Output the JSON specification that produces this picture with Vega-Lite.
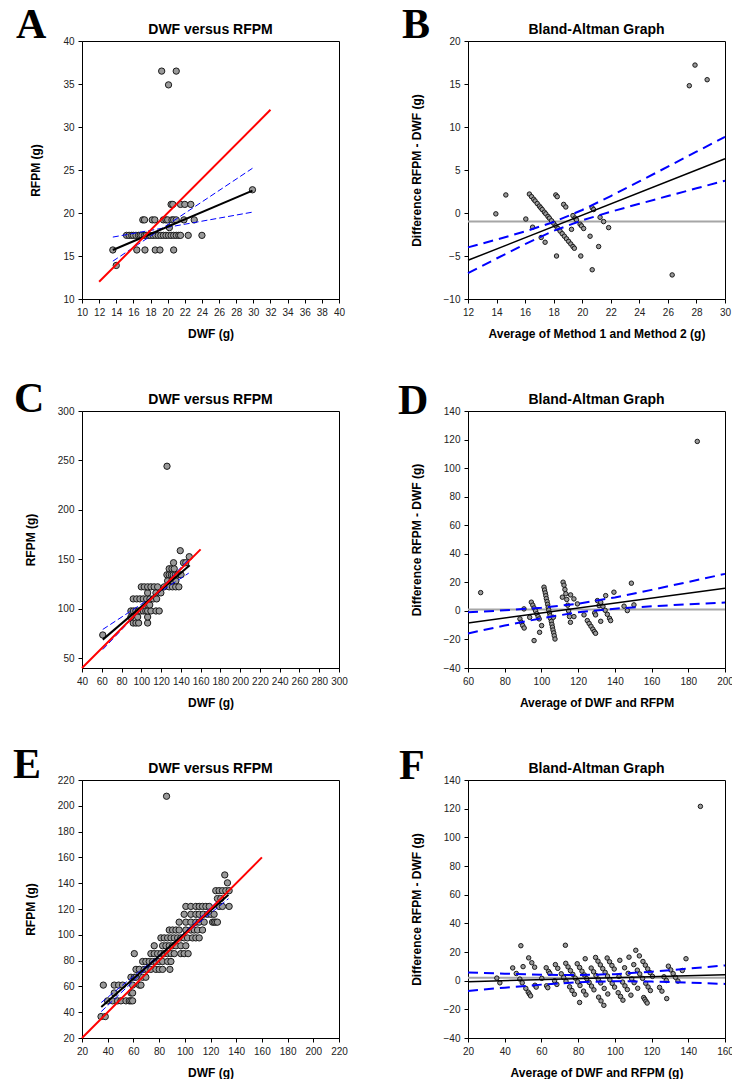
{
  "$schema": "https://vega.github.io/schema/vega-lite/v6.json",
  "padding": {"left": 12, "top": 3, "right": 0, "bottom": 0},
  "bounds": "flush",
  "columns": 2,
  "spacing": {"row": 112, "column": 129},
  "config": {
    "font": "Liberation Sans",
    "view": {"stroke": "#000000", "strokeWidth": 1},
    "axis": {"grid": false, "domainColor": "#000000", "domainWidth": 1, "tickColor": "#000000", "tickSize": 4, "labelFontSize": 10, "labelColor": "#222222", "labelPadding": 4, "labelFlush": false, "labelOverlap": false, "titleFontSize": 12, "titleFontWeight": "bold", "titleColor": "#000000"},
    "axisX": {"titlePadding": 11},
    "axisY": {"titlePadding": 20},
    "title": {"fontSize": 14, "fontWeight": "bold", "color": "#000000"}
  },
  "datasets": {
    "a_pts": [
      {"x":14.0,"y":13.9},
      {"x":13.6,"y":15.7},{"x":16.4,"y":15.7},{"x":17.35,"y":15.7},{"x":18.55,"y":15.7},{"x":19.1,"y":15.7},{"x":20.7,"y":15.7},
      {"x":15.2,"y":17.4},{"x":15.5,"y":17.4},{"x":15.8,"y":17.4},{"x":16.0,"y":17.4},{"x":16.3,"y":17.4},{"x":16.6,"y":17.4},{"x":16.8,"y":17.4},{"x":17.0,"y":17.4},{"x":17.3,"y":17.4},{"x":17.5,"y":17.4},{"x":17.8,"y":17.4},{"x":18.0,"y":17.4},{"x":18.3,"y":17.4},{"x":18.6,"y":17.4},{"x":18.9,"y":17.4},{"x":19.2,"y":17.4},{"x":19.5,"y":17.4},{"x":19.8,"y":17.4},{"x":20.1,"y":17.4},{"x":20.4,"y":17.4},{"x":20.7,"y":17.4},{"x":21.0,"y":17.4},{"x":21.3,"y":17.4},{"x":21.5,"y":17.4},{"x":22.4,"y":17.4},{"x":24.0,"y":17.4},
      {"x":20.2,"y":18.3},
      {"x":17.1,"y":19.2},{"x":17.3,"y":19.2},{"x":18.2,"y":19.2},{"x":18.5,"y":19.2},{"x":19.5,"y":19.2},{"x":19.8,"y":19.2},{"x":20.0,"y":19.2},{"x":20.5,"y":19.2},{"x":20.7,"y":19.2},{"x":21.0,"y":19.2},{"x":21.9,"y":19.2},{"x":23.1,"y":19.2},
      {"x":20.4,"y":21.0},{"x":20.6,"y":21.0},{"x":21.5,"y":21.0},{"x":22.0,"y":21.0},{"x":22.7,"y":21.0},
      {"x":29.9,"y":22.7},{"x":20.1,"y":34.9},{"x":19.3,"y":36.5},{"x":21.0,"y":36.5}
    ],
    "a_lines": [
      {"line":"identity","x":12,"y":12},{"line":"identity","x":32,"y":32},
      {"line":"fit","x":13.6,"y":15.7},{"line":"fit","x":29.9,"y":22.6},
      {"line":"band_a","x":13.6,"y":17.2},{"line":"band_a","x":29.9,"y":20.1},
      {"line":"band_b","x":13.6,"y":14.4},{"line":"band_b","x":29.9,"y":25.2}
    ],
    "b_pts": [
      {"x":13.95,"y":-0.1},
      {"x":14.65,"y":2.1},{"x":16.05,"y":-0.7},{"x":16.525,"y":-1.65},{"x":17.125,"y":-2.85},{"x":17.4,"y":-3.4},{"x":18.2,"y":-5.0},
      {"x":16.3,"y":2.2},{"x":16.45,"y":1.9},{"x":16.6,"y":1.6},{"x":16.7,"y":1.4},{"x":16.85,"y":1.1},{"x":17.0,"y":0.8},{"x":17.1,"y":0.6},{"x":17.2,"y":0.4},{"x":17.35,"y":0.1},{"x":17.45,"y":-0.1},{"x":17.6,"y":-0.4},{"x":17.7,"y":-0.6},{"x":17.85,"y":-0.9},{"x":18.0,"y":-1.2},{"x":18.15,"y":-1.5},{"x":18.3,"y":-1.8},{"x":18.45,"y":-2.1},{"x":18.6,"y":-2.4},{"x":18.75,"y":-2.7},{"x":18.9,"y":-3.0},{"x":19.05,"y":-3.3},{"x":19.2,"y":-3.6},{"x":19.35,"y":-3.9},{"x":19.45,"y":-4.1},{"x":19.9,"y":-5.0},{"x":20.7,"y":-6.6},
      {"x":19.25,"y":-1.9},
      {"x":18.15,"y":2.1},{"x":18.25,"y":1.9},{"x":18.7,"y":1.0},{"x":18.85,"y":0.7},{"x":19.35,"y":-0.3},{"x":19.5,"y":-0.6},{"x":19.6,"y":-0.8},{"x":19.85,"y":-1.3},{"x":19.95,"y":-1.5},{"x":20.1,"y":-1.8},{"x":20.55,"y":-2.7},{"x":21.15,"y":-3.9},
      {"x":20.7,"y":0.6},{"x":20.8,"y":0.4},{"x":21.25,"y":-0.5},{"x":21.5,"y":-1.0},{"x":21.85,"y":-1.7},
      {"x":26.3,"y":-7.2},{"x":27.5,"y":14.8},{"x":27.9,"y":17.2},{"x":28.75,"y":15.5}
    ],
    "b_lines": [
      {"line":"mean","x":12,"y":-1.0},{"line":"mean","x":30,"y":-1.0},
      {"line":"fit","x":12,"y":-5.5},{"line":"fit","x":30,"y":6.3},
      {"line":"upper","x":12,"y":-4.0},{"line":"upper","x":14,"y":-3.09},{"line":"upper","x":16,"y":-2.14},{"line":"upper","x":18,"y":-1.05},{"line":"upper","x":20,"y":0.35},{"line":"upper","x":22,"y":1.97},{"line":"upper","x":24,"y":3.67},{"line":"upper","x":26,"y":5.39},{"line":"upper","x":28,"y":7.13},{"line":"upper","x":30,"y":8.86},
      {"line":"lower","x":12,"y":-7.0},{"line":"lower","x":14,"y":-5.29},{"line":"lower","x":16,"y":-3.62},{"line":"lower","x":18,"y":-2.07},{"line":"lower","x":20,"y":-0.85},{"line":"lower","x":22,"y":0.15},{"line":"lower","x":24,"y":1.07},{"line":"lower","x":26,"y":1.97},{"line":"lower","x":28,"y":2.87},{"line":"lower","x":30,"y":3.76}
    ],
    "c_pts": [
      {"x":61,"y":73.4},
      {"x":91.8,"y":85.5},{"x":94.6,"y":85.5},{"x":97.3,"y":85.5},{"x":106.4,"y":85.5},
      {"x":89.5,"y":91.6},{"x":96.3,"y":91.6},{"x":106.4,"y":91.6},
      {"x":89.5,"y":97.7},{"x":92.0,"y":97.7},{"x":94.5,"y":97.7},{"x":97.0,"y":97.7},{"x":99.5,"y":97.7},{"x":102.0,"y":97.7},{"x":104.5,"y":97.7},{"x":106.4,"y":97.7},{"x":109.7,"y":97.7},{"x":114.8,"y":97.7},{"x":118.1,"y":97.7},
      {"x":106.4,"y":103.8},{"x":108.5,"y":103.8},
      {"x":91.8,"y":109.9},{"x":95.3,"y":109.9},{"x":98.6,"y":109.9},{"x":102.0,"y":109.9},{"x":105.4,"y":109.9},{"x":108.7,"y":109.9},{"x":112.1,"y":109.9},{"x":115.5,"y":109.9},
      {"x":106.4,"y":116.0},{"x":114.8,"y":116.0},{"x":119.8,"y":116.0},
      {"x":100.0,"y":122.1},{"x":103.0,"y":122.1},{"x":106.4,"y":122.1},{"x":109.7,"y":122.1},{"x":113.0,"y":122.1},{"x":116.5,"y":122.1},{"x":123.2,"y":122.1},{"x":128.2,"y":122.1},{"x":131.5,"y":122.1},{"x":134.8,"y":122.1},{"x":138.0,"y":122.1},
      {"x":126.6,"y":128.2},{"x":131.0,"y":128.2},{"x":135.0,"y":128.2},
      {"x":125.9,"y":134.3},{"x":128.2,"y":134.3},{"x":130.5,"y":134.3},{"x":132.3,"y":134.3},{"x":134.5,"y":134.3},{"x":136.7,"y":134.3},{"x":140.2,"y":134.3},
      {"x":128.2,"y":140.4},{"x":131.0,"y":140.4},{"x":133.3,"y":140.4},
      {"x":132.6,"y":146.5},{"x":142.7,"y":146.5},{"x":145.0,"y":146.5},
      {"x":148.5,"y":152.6},{"x":139.4,"y":158.7},{"x":126.0,"y":244.1}
    ],
    "c_lines": [
      {"line":"identity","x":40,"y":40},{"line":"identity","x":160,"y":160},
      {"line":"fit","x":61,"y":68.7},{"line":"fit","x":149,"y":143.9},
      {"line":"band_a","x":61,"y":79},{"line":"band_a","x":148,"y":136},
      {"line":"band_b","x":61,"y":58.7},{"line":"band_b","x":148,"y":150}
    ],
    "d_pts": [
      {"x":66.9,"y":12.8},
      {"x":88.3,"y":-5.6},{"x":89.0,"y":-8.0},{"x":89.8,"y":-10.2},{"x":90.6,"y":-12.0},
      {"x":90.5,"y":1.4},{"x":93.6,"y":-4.5},
      {"x":94.5,"y":6.1},{"x":95.3,"y":4.0},{"x":96.0,"y":2.0},{"x":96.8,"y":0.0},{"x":97.5,"y":-2.0},{"x":98.2,"y":-4.0},{"x":98.8,"y":-5.6},
      {"x":96.0,"y":-20.8},{"x":99.0,"y":-15.0},{"x":100.1,"y":-10.3},
      {"x":101.4,"y":16.6},{"x":101.7,"y":14.6},{"x":102.1,"y":12.6},{"x":102.4,"y":10.6},{"x":102.7,"y":8.6},{"x":103.1,"y":6.6},{"x":103.4,"y":4.6},{"x":103.7,"y":2.6},{"x":104.0,"y":0.6},{"x":104.4,"y":-1.4},{"x":104.7,"y":-3.4},{"x":105.0,"y":-5.4},{"x":105.4,"y":-7.4},{"x":105.7,"y":-9.4},{"x":106.0,"y":-11.4},{"x":106.3,"y":-13.4},{"x":106.7,"y":-15.4},{"x":107.0,"y":-17.4},{"x":107.4,"y":-19.7},
      {"x":106.5,"y":-4.5},{"x":111.4,"y":9.6},
      {"x":111.8,"y":20.1},{"x":112.3,"y":18.0},{"x":112.8,"y":15.0},{"x":113.3,"y":12.0},{"x":113.8,"y":8.0},{"x":114.3,"y":4.0},{"x":114.8,"y":0.0},{"x":115.3,"y":-4.0},{"x":115.8,"y":-8.0},
      {"x":115.9,"y":11.2},{"x":117.7,"y":8.4},{"x":119.6,"y":4.9},{"x":117.7,"y":-4.0},
      {"x":123.2,"y":-2.8},{"x":129.0,"y":-1.4},{"x":129.5,"y":-2.8},
      {"x":125.0,"y":-6.8},{"x":126.0,"y":-8.8},{"x":127.0,"y":-10.8},{"x":128.0,"y":-12.8},{"x":128.8,"y":-14.5},{"x":129.5,"y":-15.7},
      {"x":130.5,"y":7.2},{"x":131.4,"y":3.7},{"x":132.3,"y":-7.3},
      {"x":132.3,"y":6.0},{"x":133.5,"y":3.2},{"x":134.7,"y":0.4},{"x":135.9,"y":-2.4},{"x":137.1,"y":-5.2},{"x":137.7,"y":-6.8},
      {"x":135.0,"y":10.7},{"x":139.5,"y":13.1},{"x":145.0,"y":3.3},{"x":146.8,"y":0.2},{"x":150.4,"y":4.2},{"x":149.0,"y":19.4},{"x":184.9,"y":118.7}
    ],
    "d_lines": [
      {"line":"mean","x":60,"y":1.0},{"line":"mean","x":200,"y":1.0},
      {"line":"fit","x":60,"y":-8.4},{"line":"fit","x":200,"y":15.9},
      {"line":"upper","x":60,"y":-1.0},{"line":"upper","x":80,"y":0.42},{"line":"upper","x":100,"y":2.2},{"line":"upper","x":120,"y":5.03},{"line":"upper","x":140,"y":9.44},{"line":"upper","x":160,"y":14.71},{"line":"upper","x":180,"y":20.26},{"line":"upper","x":200,"y":25.93},
      {"line":"lower","x":60,"y":-15.8},{"line":"lower","x":80,"y":-10.28},{"line":"lower","x":100,"y":-5.12},{"line":"lower","x":120,"y":-0.99},{"line":"lower","x":140,"y":1.54},{"line":"lower","x":160,"y":3.21},{"line":"lower","x":180,"y":4.6},{"line":"lower","x":200,"y":5.87}
    ],
    "e_pts": [
      {"x":34.8,"y":36.6},{"x":38.1,"y":36.6},
      {"x":39.9,"y":48.8},{"x":43.8,"y":48.8},{"x":47.7,"y":48.8},{"x":50.3,"y":48.8},{"x":54.2,"y":48.8},{"x":56.8,"y":48.8},{"x":58.1,"y":48.8},{"x":59.4,"y":48.8},
      {"x":45.1,"y":54.9},{"x":58.1,"y":54.9},{"x":59.4,"y":54.9},
      {"x":36.6,"y":61.0},{"x":45.1,"y":61.0},{"x":48.5,"y":61.0},{"x":51.6,"y":61.0},{"x":59.4,"y":61.0},{"x":64.6,"y":61.0},{"x":65.9,"y":61.0},
      {"x":58.1,"y":67.1},{"x":60.7,"y":67.1},{"x":62.0,"y":67.1},{"x":67.2,"y":67.1},{"x":69.7,"y":67.1},
      {"x":62.0,"y":73.2},{"x":64.6,"y":73.2},{"x":68.4,"y":73.2},{"x":71.0,"y":73.2},{"x":73.6,"y":73.2},{"x":77.5,"y":73.2},{"x":80.1,"y":73.2},{"x":82.7,"y":73.2},{"x":88.4,"y":73.2},
      {"x":67.2,"y":79.3},{"x":69.7,"y":79.3},{"x":72.3,"y":79.3},{"x":74.9,"y":79.3},{"x":77.5,"y":79.3},{"x":80.1,"y":79.3},{"x":82.7,"y":79.3},{"x":86.6,"y":79.3},{"x":89.2,"y":79.3},
      {"x":60.7,"y":85.4},{"x":73.6,"y":85.4},{"x":76.2,"y":85.4},{"x":78.8,"y":85.4},{"x":81.4,"y":85.4},{"x":84.0,"y":85.4},{"x":86.6,"y":85.4},{"x":89.2,"y":85.4},{"x":91.8,"y":85.4},{"x":96.9,"y":85.4},{"x":99.5,"y":85.4},{"x":102.6,"y":85.4},
      {"x":76.2,"y":91.5},{"x":82.7,"y":91.5},{"x":85.3,"y":91.5},{"x":87.9,"y":91.5},{"x":90.5,"y":91.5},{"x":93.1,"y":91.5},{"x":96.9,"y":91.5},{"x":100.8,"y":91.5},
      {"x":81.4,"y":97.6},{"x":84.0,"y":97.6},{"x":86.6,"y":97.6},{"x":89.2,"y":97.6},{"x":91.8,"y":97.6},{"x":94.4,"y":97.6},{"x":96.9,"y":97.6},{"x":99.5,"y":97.6},{"x":102.1,"y":97.6},{"x":106.0,"y":97.6},{"x":108.6,"y":97.6},{"x":111.2,"y":97.6},
      {"x":87.9,"y":103.7},{"x":90.5,"y":103.7},{"x":93.1,"y":103.7},{"x":95.6,"y":103.7},{"x":100.8,"y":103.7},{"x":104.7,"y":103.7},{"x":107.3,"y":103.7},{"x":109.9,"y":103.7},{"x":113.8,"y":103.7},
      {"x":95.6,"y":109.8},{"x":100.8,"y":109.8},{"x":104.7,"y":109.8},{"x":108.6,"y":109.8},{"x":111.2,"y":109.8},{"x":115.1,"y":109.8},{"x":121.6,"y":109.8},{"x":122.8,"y":109.8},{"x":124.1,"y":109.8},{"x":125.4,"y":109.8},
      {"x":99.5,"y":115.9},{"x":104.7,"y":115.9},{"x":108.6,"y":115.9},{"x":111.2,"y":115.9},{"x":114.3,"y":115.9},{"x":117.7,"y":115.9},{"x":120.3,"y":115.9},{"x":122.8,"y":115.9},
      {"x":100.8,"y":122.0},{"x":104.7,"y":122.0},{"x":108.6,"y":122.0},{"x":111.2,"y":122.0},{"x":113.8,"y":122.0},{"x":116.4,"y":122.0},{"x":119.0,"y":122.0},{"x":126.7,"y":122.0},{"x":129.3,"y":122.0},{"x":134.5,"y":122.0},
      {"x":125.4,"y":128.1},{"x":128.0,"y":128.1},
      {"x":124.1,"y":134.2},{"x":126.7,"y":134.2},{"x":129.3,"y":134.2},{"x":131.9,"y":134.2},{"x":134.5,"y":134.2},
      {"x":133.2,"y":140.3},{"x":131.1,"y":146.4},{"x":85.8,"y":207.4}
    ],
    "e_lines": [
      {"line":"identity","x":20,"y":20},{"line":"identity","x":160,"y":160},
      {"line":"fit","x":35,"y":44},{"line":"fit","x":134,"y":131},
      {"line":"band_a","x":35,"y":47.5},{"line":"band_a","x":134,"y":128},
      {"line":"band_b","x":35,"y":40.5},{"line":"band_b","x":134,"y":134.1}
    ],
    "f_pts": [
      {"x":35.7,"y":1.8},{"x":37.35,"y":-1.5},
      {"x":44.35,"y":8.9},{"x":46.3,"y":5.0},{"x":48.25,"y":1.1},{"x":49.55,"y":-1.5},{"x":51.5,"y":-5.4},{"x":52.8,"y":-8.0},{"x":53.45,"y":-9.3},{"x":54.1,"y":-10.6},
      {"x":50.0,"y":9.8},{"x":56.5,"y":-3.2},{"x":57.15,"y":-4.5},
      {"x":48.8,"y":24.4},{"x":53.05,"y":15.9},{"x":54.75,"y":12.5},{"x":56.3,"y":9.4},{"x":60.2,"y":1.6},{"x":62.8,"y":-3.6},{"x":63.45,"y":-4.9},
      {"x":62.6,"y":9.0},{"x":63.9,"y":6.4},{"x":64.55,"y":5.1},{"x":67.15,"y":-0.1},{"x":68.4,"y":-2.6},
      {"x":67.6,"y":11.2},{"x":68.9,"y":8.6},{"x":70.8,"y":4.8},{"x":72.1,"y":2.2},{"x":73.4,"y":-0.4},{"x":75.35,"y":-4.3},{"x":76.65,"y":-6.9},{"x":77.95,"y":-9.5},{"x":80.8,"y":-15.2},
      {"x":73.25,"y":12.1},{"x":74.5,"y":9.6},{"x":75.8,"y":7.0},{"x":77.1,"y":4.4},{"x":78.4,"y":1.8},{"x":79.7,"y":-0.8},{"x":81.0,"y":-3.4},{"x":82.95,"y":-7.3},{"x":84.25,"y":-9.9},
      {"x":73.05,"y":24.7},{"x":79.5,"y":11.8},{"x":80.8,"y":9.2},{"x":82.1,"y":6.6},{"x":83.4,"y":4.0},{"x":84.7,"y":1.4},{"x":86.0,"y":-1.2},{"x":87.3,"y":-3.8},{"x":88.6,"y":-6.4},{"x":91.15,"y":-11.5},{"x":92.45,"y":-14.1},{"x":94.0,"y":-17.2},
      {"x":83.85,"y":15.3},{"x":87.1,"y":8.8},{"x":88.4,"y":6.2},{"x":89.7,"y":3.6},{"x":91.0,"y":1.0},{"x":92.3,"y":-1.6},{"x":94.2,"y":-5.4},{"x":96.15,"y":-9.3},
      {"x":89.5,"y":16.2},{"x":90.8,"y":13.6},{"x":92.1,"y":11.0},{"x":93.4,"y":8.4},{"x":94.7,"y":5.8},{"x":96.0,"y":3.2},{"x":97.25,"y":0.7},{"x":98.55,"y":-1.9},{"x":99.85,"y":-4.5},{"x":101.8,"y":-8.4},{"x":103.1,"y":-11.0},{"x":104.4,"y":-13.6},
      {"x":95.8,"y":15.8},{"x":97.1,"y":13.2},{"x":98.4,"y":10.6},{"x":99.65,"y":8.1},{"x":102.25,"y":2.9},{"x":104.2,"y":-1.0},{"x":105.5,"y":-3.6},{"x":106.8,"y":-6.2},{"x":108.75,"y":-10.1},
      {"x":102.7,"y":14.2},{"x":105.3,"y":9.0},{"x":107.25,"y":5.1},{"x":109.2,"y":1.2},{"x":110.5,"y":-1.4},{"x":112.45,"y":-5.3},{"x":115.7,"y":-11.8},{"x":116.3,"y":-13.0},{"x":116.95,"y":-14.3},{"x":117.6,"y":-15.6},
      {"x":107.7,"y":16.4},{"x":110.3,"y":11.2},{"x":112.25,"y":7.3},{"x":113.55,"y":4.7},{"x":115.1,"y":1.6},{"x":116.8,"y":-1.8},{"x":118.1,"y":-4.4},{"x":119.35,"y":-6.9},
      {"x":111.4,"y":21.2},{"x":113.35,"y":17.3},{"x":115.3,"y":13.4},{"x":116.6,"y":10.8},{"x":117.9,"y":8.2},{"x":119.2,"y":5.6},{"x":120.5,"y":3.0},{"x":124.35,"y":-4.7},{"x":125.65,"y":-7.3},{"x":128.25,"y":-12.5},
      {"x":126.75,"y":2.7},{"x":128.05,"y":0.1},
      {"x":129.15,"y":10.1},{"x":130.45,"y":7.5},{"x":131.75,"y":4.9},{"x":133.05,"y":2.3},{"x":134.35,"y":-0.3},
      {"x":136.75,"y":7.1},{"x":138.75,"y":15.3},{"x":146.6,"y":121.6}
    ],
    "f_lines": [
      {"line":"mean","x":20,"y":2.0},{"line":"mean","x":160,"y":2.0},
      {"line":"fit","x":20,"y":-0.7},{"line":"fit","x":160,"y":4.2},
      {"line":"upper","x":20,"y":5.75},{"line":"upper","x":40,"y":4.88},{"line":"upper","x":60,"y":4.16},{"line":"upper","x":80,"y":3.86},{"line":"upper","x":100,"y":4.56},{"line":"upper","x":120,"y":6.26},{"line":"upper","x":140,"y":8.38},{"line":"upper","x":160,"y":10.65},
      {"line":"lower","x":20,"y":-7.15},{"line":"lower","x":40,"y":-4.88},{"line":"lower","x":60,"y":-2.76},{"line":"lower","x":80,"y":-1.06},{"line":"lower","x":100,"y":-0.36},{"line":"lower","x":120,"y":-0.66},{"line":"lower","x":140,"y":-1.38},{"line":"lower","x":160,"y":-2.25}
    ]
  },
  "concat": [
    {
      "width": 257, "height": 258,
      "title": {"text": "DWF versus RFPM", "offset": -33},
      "layer": [
        {"data": {"name": "a_pts"}, "mark": {"type": "circle", "size": 40, "color": "#9a9a9a", "stroke": "#1a1a1a", "strokeWidth": 1, "opacity": 1},
         "encoding": {
           "x": {"field": "x", "type": "quantitative", "scale": {"domain": [10, 40], "nice": false, "zero": false}, "axis": {"values": [10,12,14,16,18,20,22,24,26,28,30,32,34,36,38,40], "tickCount": 100, "format": "d", "labelOverlap": false, "labelFlush": false, "title": "DWF (g)"}},
           "y": {"field": "y", "type": "quantitative", "scale": {"domain": [10, 40], "nice": false, "zero": false}, "axis": {"values": [10,15,20,25,30,35,40], "tickCount": 100, "format": "d", "labelOverlap": false, "labelFlush": false, "title": "RFPM (g)"}}
         }},
        {"data": {"name": "a_lines"}, "transform": [{"filter": {"field": "line", "oneOf": ["band_a", "band_b"]}}], "mark": {"type": "line", "color": "#0000ff", "strokeWidth": 1, "strokeDash": [6, 3]}, "encoding": {"x": {"field": "x", "type": "quantitative"}, "y": {"field": "y", "type": "quantitative"}, "detail": {"field": "line"}}},
        {"data": {"name": "a_lines"}, "transform": [{"filter": {"field": "line", "equal": "fit"}}], "mark": {"type": "line", "color": "#000000", "strokeWidth": 2}, "encoding": {"x": {"field": "x", "type": "quantitative"}, "y": {"field": "y", "type": "quantitative"}}},
        {"data": {"name": "a_lines"}, "transform": [{"filter": {"field": "line", "equal": "identity"}}], "mark": {"type": "line", "color": "#ff0000", "strokeWidth": 2}, "encoding": {"x": {"field": "x", "type": "quantitative"}, "y": {"field": "y", "type": "quantitative"}}},
        {"data": {"values": [{"panel": "A"}]}, "mark": {"type": "text", "font": "Liberation Serif", "fontSize": 42, "fontWeight": "bold", "align": "left", "baseline": "alphabetic", "color": "#000000", "clip": false},
         "encoding": {
           "x": {"datum": 2.3, "type": "quantitative", "axis": {"values": [10,12,14,16,18,20,22,24,26,28,30,32,34,36,38,40], "tickCount": 100, "format": "d", "labelOverlap": false, "labelFlush": false, "title": "DWF (g)"}},
           "y": {"datum": 40.35, "type": "quantitative", "axis": {"values": [10,15,20,25,30,35,40], "tickCount": 100, "format": "d", "labelOverlap": false, "labelFlush": false, "title": "RFPM (g)"}},
           "text": {"field": "panel"}}}
      ]
    },
    {
      "width": 257, "height": 258,
      "title": {"text": "Bland-Altman Graph", "offset": -33},
      "layer": [
        {"data": {"name": "b_lines"}, "transform": [{"filter": {"field": "line", "equal": "mean"}}], "mark": {"type": "line", "color": "#a6a6a6", "strokeWidth": 2}, "encoding": {"x": {"field": "x", "type": "quantitative"}, "y": {"field": "y", "type": "quantitative"}}},
        {"data": {"name": "b_pts"}, "mark": {"type": "circle", "size": 20, "color": "#9a9a9a", "stroke": "#1a1a1a", "strokeWidth": 1, "opacity": 1},
         "encoding": {
           "x": {"field": "x", "type": "quantitative", "scale": {"domain": [12, 30], "nice": false, "zero": false}, "axis": {"values": [12,14,16,18,20,22,24,26,28,30], "tickCount": 100, "format": "d", "labelOverlap": false, "labelFlush": false, "title": "Average of Method 1 and Method 2 (g)"}},
           "y": {"field": "y", "type": "quantitative", "scale": {"domain": [-10, 20], "nice": false, "zero": false}, "axis": {"values": [-10,-5,0,5,10,15,20], "tickCount": 100, "format": "d", "labelOverlap": false, "labelFlush": false, "title": "Difference RFPM - DWF  (g)"}}
         }},
        {"data": {"name": "b_lines"}, "transform": [{"filter": {"field": "line", "oneOf": ["upper", "lower"]}}], "mark": {"type": "line", "color": "#0000ff", "strokeWidth": 2, "strokeDash": [10, 6]}, "encoding": {"x": {"field": "x", "type": "quantitative"}, "y": {"field": "y", "type": "quantitative"}, "detail": {"field": "line"}}},
        {"data": {"name": "b_lines"}, "transform": [{"filter": {"field": "line", "equal": "fit"}}], "mark": {"type": "line", "color": "#000000", "strokeWidth": 1.5}, "encoding": {"x": {"field": "x", "type": "quantitative"}, "y": {"field": "y", "type": "quantitative"}}},
        {"data": {"values": [{"panel": "B"}]}, "mark": {"type": "text", "font": "Liberation Serif", "fontSize": 42, "fontWeight": "bold", "align": "left", "baseline": "alphabetic", "color": "#000000", "clip": false},
         "encoding": {
           "x": {"datum": 7.38, "type": "quantitative", "axis": {"values": [12,14,16,18,20,22,24,26,28,30], "tickCount": 100, "format": "d", "labelOverlap": false, "labelFlush": false, "title": "Average of Method 1 and Method 2 (g)"}},
           "y": {"datum": 20.35, "type": "quantitative", "axis": {"values": [-10,-5,0,5,10,15,20], "tickCount": 100, "format": "d", "labelOverlap": false, "labelFlush": false, "title": "Difference RFPM - DWF  (g)"}},
           "text": {"field": "panel"}}}
      ]
    },
    {
      "width": 257, "height": 257,
      "title": {"text": "DWF versus RFPM", "offset": -29},
      "layer": [
        {"data": {"name": "c_pts"}, "mark": {"type": "circle", "size": 40, "color": "#9a9a9a", "stroke": "#1a1a1a", "strokeWidth": 1, "opacity": 1},
         "encoding": {
           "x": {"field": "x", "type": "quantitative", "scale": {"domain": [40, 300], "nice": false, "zero": false}, "axis": {"values": [40,60,80,100,120,140,160,180,200,220,240,260,280,300], "tickCount": 100, "format": "d", "labelOverlap": false, "labelFlush": false, "title": "DWF (g)"}},
           "y": {"field": "y", "type": "quantitative", "scale": {"domain": [40, 300], "nice": false, "zero": false}, "axis": {"values": [50,100,150,200,250,300], "tickCount": 100, "format": "d", "labelOverlap": false, "labelFlush": false, "title": "RFPM (g)"}}
         }},
        {"data": {"name": "c_lines"}, "transform": [{"filter": {"field": "line", "oneOf": ["band_a", "band_b"]}}], "mark": {"type": "line", "color": "#0000ff", "strokeWidth": 1, "strokeDash": [6, 3]}, "encoding": {"x": {"field": "x", "type": "quantitative"}, "y": {"field": "y", "type": "quantitative"}, "detail": {"field": "line"}}},
        {"data": {"name": "c_lines"}, "transform": [{"filter": {"field": "line", "equal": "fit"}}], "mark": {"type": "line", "color": "#000000", "strokeWidth": 2}, "encoding": {"x": {"field": "x", "type": "quantitative"}, "y": {"field": "y", "type": "quantitative"}}},
        {"data": {"name": "c_lines"}, "transform": [{"filter": {"field": "line", "equal": "identity"}}], "mark": {"type": "line", "color": "#ff0000", "strokeWidth": 2}, "encoding": {"x": {"field": "x", "type": "quantitative"}, "y": {"field": "y", "type": "quantitative"}}},
        {"data": {"values": [{"panel": "C"}]}, "mark": {"type": "text", "font": "Liberation Serif", "fontSize": 42, "fontWeight": "bold", "align": "left", "baseline": "alphabetic", "color": "#000000", "clip": false},
         "encoding": {
           "x": {"datum": -28.8, "type": "quantitative", "axis": {"values": [40,60,80,100,120,140,160,180,200,220,240,260,280,300], "tickCount": 100, "format": "d", "labelOverlap": false, "labelFlush": false, "title": "DWF (g)"}},
           "y": {"datum": 299, "type": "quantitative", "axis": {"values": [50,100,150,200,250,300], "tickCount": 100, "format": "d", "labelOverlap": false, "labelFlush": false, "title": "RFPM (g)"}},
           "text": {"field": "panel"}}}
      ]
    },
    {
      "width": 257, "height": 257,
      "title": {"text": "Bland-Altman Graph", "offset": -27},
      "layer": [
        {"data": {"name": "d_lines"}, "transform": [{"filter": {"field": "line", "equal": "mean"}}], "mark": {"type": "line", "color": "#a6a6a6", "strokeWidth": 2}, "encoding": {"x": {"field": "x", "type": "quantitative"}, "y": {"field": "y", "type": "quantitative"}}},
        {"data": {"name": "d_pts"}, "mark": {"type": "circle", "size": 20, "color": "#9a9a9a", "stroke": "#1a1a1a", "strokeWidth": 1, "opacity": 1},
         "encoding": {
           "x": {"field": "x", "type": "quantitative", "scale": {"domain": [60, 200], "nice": false, "zero": false}, "axis": {"values": [60,80,100,120,140,160,180,200], "tickCount": 100, "format": "d", "labelOverlap": false, "labelFlush": false, "title": "Average of DWF and RFPM"}},
           "y": {"field": "y", "type": "quantitative", "scale": {"domain": [-40, 140], "nice": false, "zero": false}, "axis": {"values": [-40,-20,0,20,40,60,80,100,120,140], "tickCount": 100, "format": "d", "labelOverlap": false, "labelFlush": false, "title": "Difference RFPM - DWF  (g)"}}
         }},
        {"data": {"name": "d_lines"}, "transform": [{"filter": {"field": "line", "oneOf": ["upper", "lower"]}}], "mark": {"type": "line", "color": "#0000ff", "strokeWidth": 2, "strokeDash": [10, 6]}, "encoding": {"x": {"field": "x", "type": "quantitative"}, "y": {"field": "y", "type": "quantitative"}, "detail": {"field": "line"}}},
        {"data": {"name": "d_lines"}, "transform": [{"filter": {"field": "line", "equal": "fit"}}], "mark": {"type": "line", "color": "#000000", "strokeWidth": 1.5}, "encoding": {"x": {"field": "x", "type": "quantitative"}, "y": {"field": "y", "type": "quantitative"}}},
        {"data": {"values": [{"panel": "D"}]}, "mark": {"type": "text", "font": "Liberation Serif", "fontSize": 42, "fontWeight": "bold", "align": "left", "baseline": "alphabetic", "color": "#000000", "clip": false},
         "encoding": {
           "x": {"datum": 21.9, "type": "quantitative", "axis": {"values": [60,80,100,120,140,160,180,200], "tickCount": 100, "format": "d", "labelOverlap": false, "labelFlush": false, "title": "Average of DWF and RFPM"}},
           "y": {"datum": 137.9, "type": "quantitative", "axis": {"values": [-40,-20,0,20,40,60,80,100,120,140], "tickCount": 100, "format": "d", "labelOverlap": false, "labelFlush": false, "title": "Difference RFPM - DWF  (g)"}},
           "text": {"field": "panel"}}}
      ]
    },
    {
      "width": 257, "height": 258,
      "title": {"text": "DWF versus RFPM", "offset": -32},
      "layer": [
        {"data": {"name": "e_pts"}, "mark": {"type": "circle", "size": 40, "color": "#9a9a9a", "stroke": "#1a1a1a", "strokeWidth": 1, "opacity": 1},
         "encoding": {
           "x": {"field": "x", "type": "quantitative", "scale": {"domain": [20, 220], "nice": false, "zero": false}, "axis": {"values": [20,40,60,80,100,120,140,160,180,200,220], "tickCount": 100, "format": "d", "labelOverlap": false, "labelFlush": false, "title": "DWF (g)"}},
           "y": {"field": "y", "type": "quantitative", "scale": {"domain": [20, 220], "nice": false, "zero": false}, "axis": {"values": [20,40,60,80,100,120,140,160,180,200,220], "tickCount": 100, "format": "d", "labelOverlap": false, "labelFlush": false, "title": "RFPM (g)"}}
         }},
        {"data": {"name": "e_lines"}, "transform": [{"filter": {"field": "line", "oneOf": ["band_a", "band_b"]}}], "mark": {"type": "line", "color": "#0000ff", "strokeWidth": 1, "strokeDash": [6, 3]}, "encoding": {"x": {"field": "x", "type": "quantitative"}, "y": {"field": "y", "type": "quantitative"}, "detail": {"field": "line"}}},
        {"data": {"name": "e_lines"}, "transform": [{"filter": {"field": "line", "equal": "fit"}}], "mark": {"type": "line", "color": "#000000", "strokeWidth": 2}, "encoding": {"x": {"field": "x", "type": "quantitative"}, "y": {"field": "y", "type": "quantitative"}}},
        {"data": {"name": "e_lines"}, "transform": [{"filter": {"field": "line", "equal": "identity"}}], "mark": {"type": "line", "color": "#ff0000", "strokeWidth": 2}, "encoding": {"x": {"field": "x", "type": "quantitative"}, "y": {"field": "y", "type": "quantitative"}}},
        {"data": {"values": [{"panel": "E"}]}, "mark": {"type": "text", "font": "Liberation Serif", "fontSize": 42, "fontWeight": "bold", "align": "left", "baseline": "alphabetic", "color": "#000000", "clip": false},
         "encoding": {
           "x": {"datum": -33.7, "type": "quantitative", "axis": {"values": [20,40,60,80,100,120,140,160,180,200,220], "tickCount": 100, "format": "d", "labelOverlap": false, "labelFlush": false, "title": "DWF (g)"}},
           "y": {"datum": 221.6, "type": "quantitative", "axis": {"values": [20,40,60,80,100,120,140,160,180,200,220], "tickCount": 100, "format": "d", "labelOverlap": false, "labelFlush": false, "title": "RFPM (g)"}},
           "text": {"field": "panel"}}}
      ]
    },
    {
      "width": 257, "height": 258,
      "title": {"text": "Bland-Altman Graph", "offset": -31},
      "layer": [
        {"data": {"name": "f_lines"}, "transform": [{"filter": {"field": "line", "equal": "mean"}}], "mark": {"type": "line", "color": "#a6a6a6", "strokeWidth": 2}, "encoding": {"x": {"field": "x", "type": "quantitative"}, "y": {"field": "y", "type": "quantitative"}}},
        {"data": {"name": "f_pts"}, "mark": {"type": "circle", "size": 20, "color": "#9a9a9a", "stroke": "#1a1a1a", "strokeWidth": 1, "opacity": 1},
         "encoding": {
           "x": {"field": "x", "type": "quantitative", "scale": {"domain": [20, 160], "nice": false, "zero": false}, "axis": {"values": [20,40,60,80,100,120,140,160], "tickCount": 100, "format": "d", "labelOverlap": false, "labelFlush": false, "title": "Average of DWF and RFPM (g)"}},
           "y": {"field": "y", "type": "quantitative", "scale": {"domain": [-40, 140], "nice": false, "zero": false}, "axis": {"values": [-40,-20,0,20,40,60,80,100,120,140], "tickCount": 100, "format": "d", "labelOverlap": false, "labelFlush": false, "title": "Difference RFPM - DWF  (g)"}}
         }},
        {"data": {"name": "f_lines"}, "transform": [{"filter": {"field": "line", "oneOf": ["upper", "lower"]}}], "mark": {"type": "line", "color": "#0000ff", "strokeWidth": 2, "strokeDash": [10, 6]}, "encoding": {"x": {"field": "x", "type": "quantitative"}, "y": {"field": "y", "type": "quantitative"}, "detail": {"field": "line"}}},
        {"data": {"name": "f_lines"}, "transform": [{"filter": {"field": "line", "equal": "fit"}}], "mark": {"type": "line", "color": "#000000", "strokeWidth": 1.5}, "encoding": {"x": {"field": "x", "type": "quantitative"}, "y": {"field": "y", "type": "quantitative"}}},
        {"data": {"values": [{"panel": "F"}]}, "mark": {"type": "text", "font": "Liberation Serif", "fontSize": 42, "fontWeight": "bold", "align": "left", "baseline": "alphabetic", "color": "#000000", "clip": false},
         "encoding": {
           "x": {"datum": -17.6, "type": "quantitative", "axis": {"values": [20,40,60,80,100,120,140,160], "tickCount": 100, "format": "d", "labelOverlap": false, "labelFlush": false, "title": "Average of DWF and RFPM (g)"}},
           "y": {"datum": 140.9, "type": "quantitative", "axis": {"values": [-40,-20,0,20,40,60,80,100,120,140], "tickCount": 100, "format": "d", "labelOverlap": false, "labelFlush": false, "title": "Difference RFPM - DWF  (g)"}},
           "text": {"field": "panel"}}}
      ]
    }
  ]
}
